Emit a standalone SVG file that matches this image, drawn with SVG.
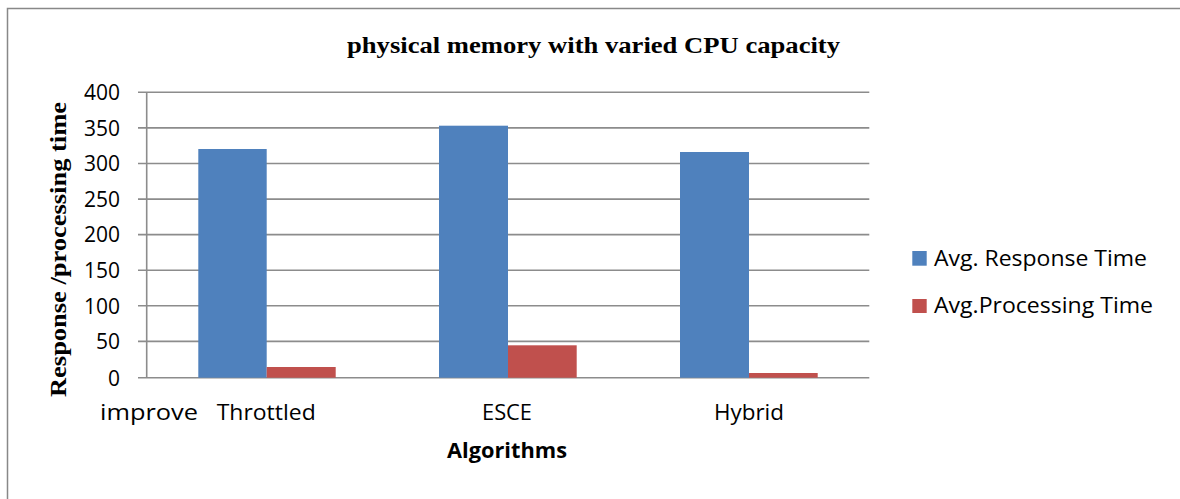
<svg xmlns="http://www.w3.org/2000/svg" width="1180" height="499" viewBox="0 0 1180 499">
<style>
.grid{stroke:#8c8c8c;stroke-width:1.6;fill:none}
.tick{font-family:"Open Sans","Liberation Sans",sans-serif;font-size:21px;fill:#000;text-anchor:end}
.cat{font-family:"Open Sans","Liberation Sans",sans-serif;font-size:22px;fill:#000}
.ser{font-family:"Liberation Serif","Times New Roman",serif;font-weight:bold;font-size:24px;fill:#000}
.blue{fill:#4F81BD}
.red{fill:#C0504D}
</style>
<rect width="1180" height="499" fill="#fff"/>
<path d="M7.5,499 V8.5 H1180" fill="none" stroke="#888" stroke-width="1.5"/>
<g id="title"><text class="ser" x="347" y="52.5" textLength="493" lengthAdjust="spacingAndGlyphs">physical memory with varied CPU capacity</text></g>
<g id="y-axis-title"><text class="ser" transform="translate(65.5,397) rotate(-90)" x="0" y="0" textLength="295" lengthAdjust="spacingAndGlyphs">Response /processing time</text></g>
<g id="gridlines">
<path class="grid" d="M138,92.3H869.3 M138,127.9H869.3 M138,163.5H869.3 M138,199.1H869.3 M138,234.6H869.3 M138,270.2H869.3 M138,305.8H869.3 M138,341.4H869.3 M138,377.7H869.3 M146.7,92.3V378"/>
</g>
<g id="y-ticks">
<text class="tick" x="120" y="100">400</text>
<text class="tick" x="120" y="135.5">350</text>
<text class="tick" x="120" y="171">300</text>
<text class="tick" x="120" y="206.5">250</text>
<text class="tick" x="120" y="242">200</text>
<text class="tick" x="120" y="277.5">150</text>
<text class="tick" x="120" y="313.5">100</text>
<text class="tick" x="120" y="349">50</text>
<text class="tick" x="120" y="385.5">0</text>
</g>
<g id="bars-throttled">
<rect class="blue" x="198.3" y="149" width="68.4" height="228.7"/>
<rect class="red" x="266.7" y="367" width="69" height="10.7"/>
</g>
<g id="bars-esce">
<rect class="blue" x="439" y="125.7" width="69" height="252"/>
<rect class="red" x="508" y="345.3" width="68.7" height="32.4"/>
</g>
<g id="bars-hybrid">
<rect class="blue" x="680" y="152" width="69" height="225.7"/>
<rect class="red" x="749" y="373" width="68.7" height="4.7"/>
</g>
<g id="x-labels">
<text class="cat" x="100" y="420" textLength="98" lengthAdjust="spacingAndGlyphs">improve</text>
<text class="cat" x="216.7" y="420" textLength="99" lengthAdjust="spacingAndGlyphs">Throttled</text>
<text class="cat" x="482" y="420" textLength="50" lengthAdjust="spacingAndGlyphs">ESCE</text>
<text class="cat" x="714" y="420" textLength="70" lengthAdjust="spacingAndGlyphs">Hybrid</text>
</g>
<g id="x-axis-title"><text class="cat" x="447" y="458" font-weight="bold" textLength="120" lengthAdjust="spacingAndGlyphs">Algorithms</text></g>
<g id="legend">
<rect class="blue" x="912.3" y="251" width="14.4" height="14.7"/>
<text class="cat" x="934" y="265.7" textLength="213" lengthAdjust="spacingAndGlyphs">Avg. Response Time</text>
<rect class="red" x="912.3" y="299" width="14.4" height="14"/>
<text class="cat" x="934" y="312.7" textLength="219" lengthAdjust="spacingAndGlyphs">Avg.Processing Time</text>
</g>
</svg>
